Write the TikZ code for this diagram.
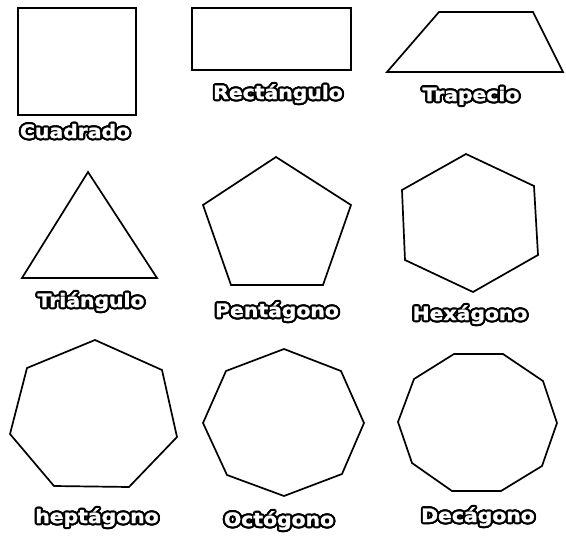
\documentclass[tikz,border=0pt]{standalone}
\usepackage{fontspec}
\newfontfamily\lblfont[FakeStretch=1.1,FakeBold=1.5]{DejaVu Sans}
\begin{document}
\begin{tikzpicture}[x=1pt,y=-1pt,
  shp/.style={draw=black,line width=1.7pt,line join=miter,fill=white},
  lbl/.style={font=\lblfont\bfseries\fontsize{18.5}{18.5}\selectfont,inner sep=0pt,anchor=base}]
\useasboundingbox (0,0) rectangle (566,536);
\fill[white] (0,0) rectangle (566,536);
\newcommand\shapelabel[3]{%
  \foreach \a in {0,22.5,...,337.5}{\path (#2) ++(\a:2.1) node[lbl,text=black]{#3};}
  \node[lbl,text=white] (#1) at (#2) {#3};}
% row 1
\draw[shp] (18,8) rectangle (136,115);
\draw[shp] (192,8) rectangle (351,70);
\draw[shp] (439,12) -- (533,12) -- (563,72) -- (387,72) -- cycle;
% row 2
\draw[shp] (88,172) -- (157,278) -- (22,278) -- cycle;
\draw[shp] (276,157) -- (351,205) -- (323,285) -- (231,285) -- (203,205) -- cycle;
\draw[shp] (466,154) -- (534,186) -- (538,255) -- (473,292) -- (405,260) -- (402,190) -- cycle;
% row 3
\draw[shp] (95,340) -- (162,370) -- (177,437) -- (129,487) -- (54,486) -- (10,434) -- (27,368) -- cycle;
\draw[shp] (284,349) -- (341,371) -- (364,423) -- (342,474) -- (284,496) -- (227,475) -- (203,423) -- (226,371) -- cycle;
\draw[shp] (454,354) -- (503,354) -- (543,381) -- (557,423) -- (542,466) -- (501,491) -- (452,491) -- (412,463) -- (398,422) -- (414,379) -- cycle;
% labels
\coordinate (p1) at (75,138);
\coordinate (p2) at (278,99);
\coordinate (p3) at (471,101);
\coordinate (p4) at (91,307);
\coordinate (p5) at (277,317);
\coordinate (p6) at (470,320);
\coordinate (p7) at (97,523);
\coordinate (p8) at (279,526);
\coordinate (p9) at (478,522);
\shapelabel{l1}{p1}{Cuadrado}
\shapelabel{l2}{p2}{Rectángulo}
\shapelabel{l3}{p3}{Trapecio}
\shapelabel{l4}{p4}{Triángulo}
\shapelabel{l5}{p5}{Pentágono}
\shapelabel{l6}{p6}{Hexágono}
\shapelabel{l7}{p7}{heptágono}
\shapelabel{l8}{p8}{Octógono}
\shapelabel{l9}{p9}{Decágono}
\end{tikzpicture}
\end{document}
